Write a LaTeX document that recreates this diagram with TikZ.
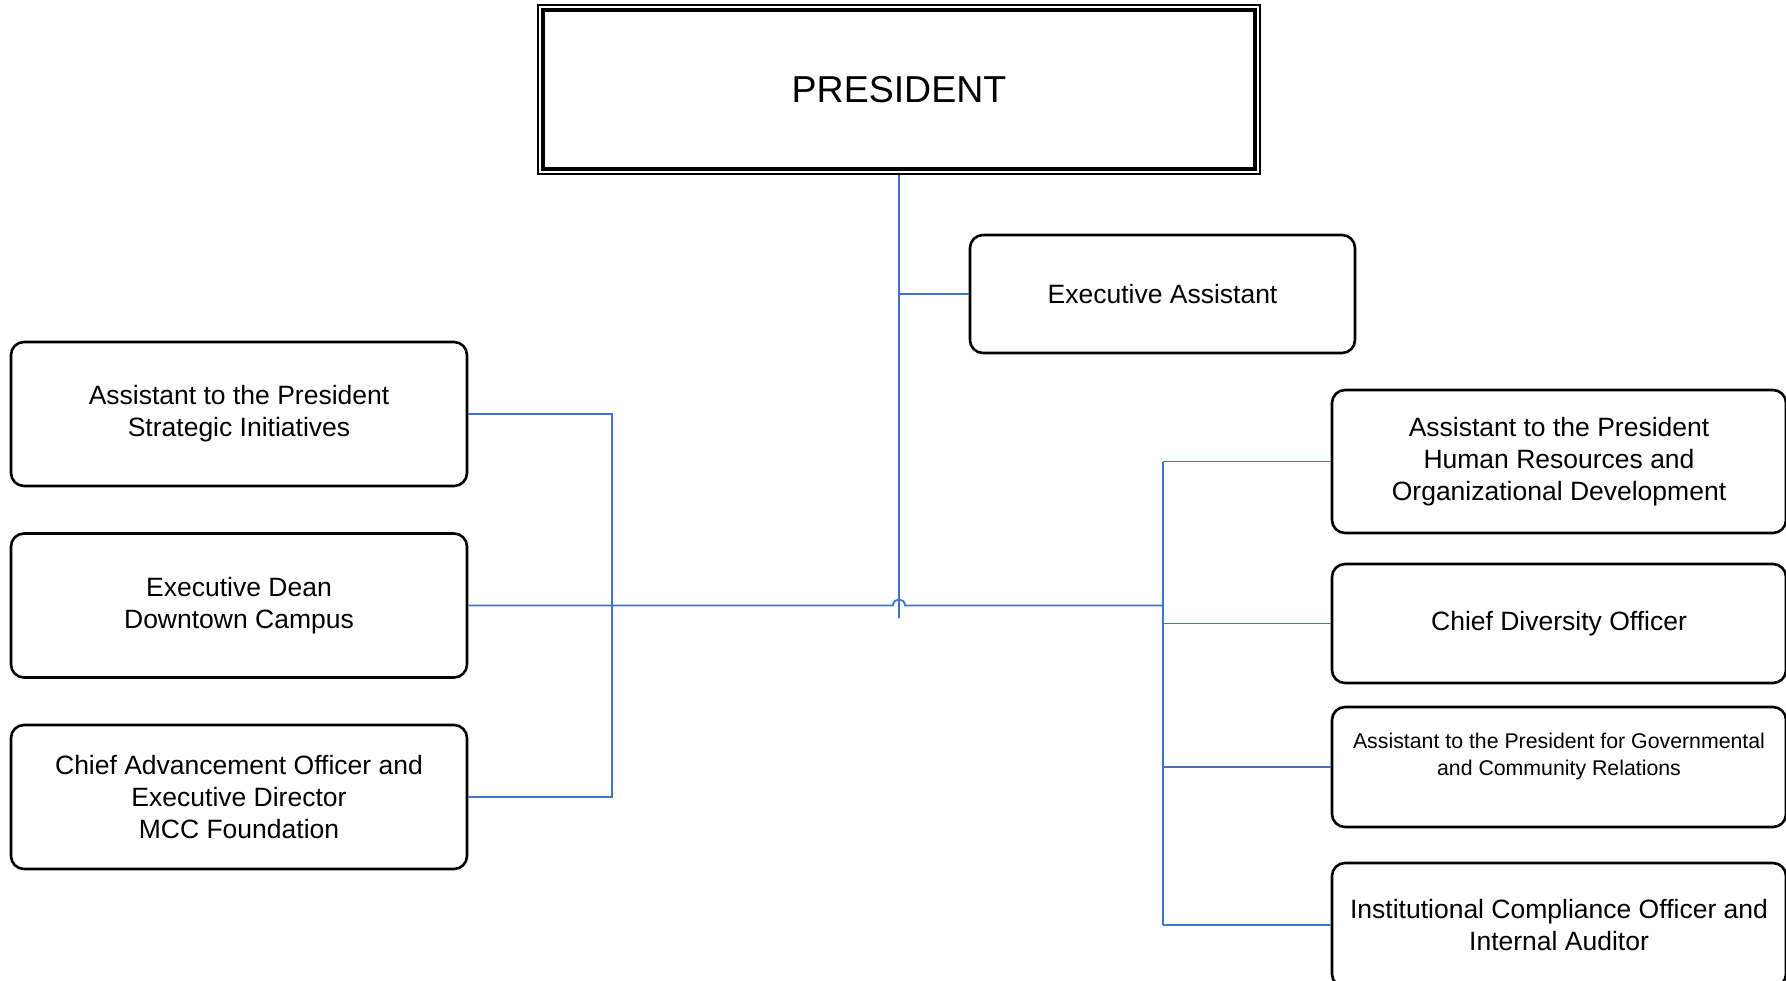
\documentclass[tikz,border=0pt]{standalone}
\usepackage{fontspec}
\setmainfont{Liberation Sans}
\usetikzlibrary{calc}
\definecolor{conn}{HTML}{4472C4}
\begin{document}
\begin{tikzpicture}[x=1pt,y=-1pt,
  box/.style={draw=black, line width=2.6pt, rounded corners=13pt, inner sep=0pt,
    align=center, font=\fontsize{26.5}{32}\selectfont},
  smalltext/.style={align=center, inner sep=0pt, font=\fontsize{21.3}{27}\selectfont},
  link/.style={draw=conn, line width=1.8pt}]
\useasboundingbox (0,0) rectangle (1786,981);
\fill[white] (0,0) rectangle (1786,981);
\clip (0,0) rectangle (1786,981);

% President
\node[draw=black, line width=2.2pt, minimum width=722pt, minimum height=169pt, inner sep=0pt,
  font=\fontsize{37.5}{40}\selectfont] (pres) at (899,89.5) {PRESIDENT};
\draw[line width=3.6pt] ($(pres.north west)+(6,6)$) rectangle ($(pres.south east)+(-6,-6)$);

% Executive assistant
\node[box, minimum width=385pt, minimum height=118pt] (ea) at (1162.5,294) {Executive Assistant};

% Left column
\node[box, minimum width=456pt, minimum height=144pt] (l1) at (239,414) {Assistant to the President\\Strategic Initiatives};
\node[box, minimum width=456pt, minimum height=144pt] (l2) at (239,605.5) {Executive Dean\\Downtown Campus};
\node[box, minimum width=456pt, minimum height=144pt] (l3) at (239,797) {Chief Advancement Officer and\\Executive Director\\MCC Foundation};

% Right column
\node[box, minimum width=454pt, minimum height=143pt] (r1) at (1559,461.5) {Assistant to the President\\Human Resources and\\Organizational Development};
\node[box, minimum width=454pt, minimum height=119pt] (r2) at (1559,623.5) {Chief Diversity Officer};
\node[box, minimum width=454pt, minimum height=120pt] (r3) at (1559,767) {};
\node[smalltext] (r3t) at ($(r3.center)+(0,-11)$) {Assistant to the President for Governmental\\and Community Relations};
\node[box, minimum width=454pt, minimum height=124pt] (r4) at (1559,925) {Institutional Compliance Officer and\\Internal Auditor};

% Coordinates for buses
\coordinate (top) at (pres.south);
\coordinate (vend) at ($(pres.south)+(0,443)$);
\coordinate (eaj) at (top |- ea.west);
\coordinate (lb1) at (612,0 |- l1.east);
\coordinate (lb3) at (612,0 |- l3.east);
\coordinate (rb1) at (1163,0 |- r1.west);
\coordinate (rb4) at (1163,0 |- r4.west);
\coordinate (rb2) at (1163,0 |- r2.west);
\coordinate (rb3) at (1163,0 |- r3.west);
\coordinate (hmid) at (top |- l2.east);
\coordinate (hl) at ($(hmid)+(-6,0)$);
\coordinate (hr) at ($(hmid)+(6,0)$);
\coordinate (rbm) at (1163,0 |- l2.east);

% Connectors
\draw[link] (top) -- (vend);
\draw[link] (eaj) -- (ea.west);
\draw[link] (l1.east) -- (lb1) -- (lb3) -- (l3.east);
\draw[link] (l2.east) -- (hl) .. controls ($(hl)+(0,-8)$) and ($(hr)+(0,-8)$) .. (hr) -- (rbm);
\draw[link] (rb1) -- (rb4);
\draw[link] (rb1) -- (r1.west);
\draw[link] (rb2) -- (r2.west);
\draw[link] (rb3) -- (r3.west);
\draw[link] (rb4) -- (r4.west);
\end{tikzpicture}
\end{document}
